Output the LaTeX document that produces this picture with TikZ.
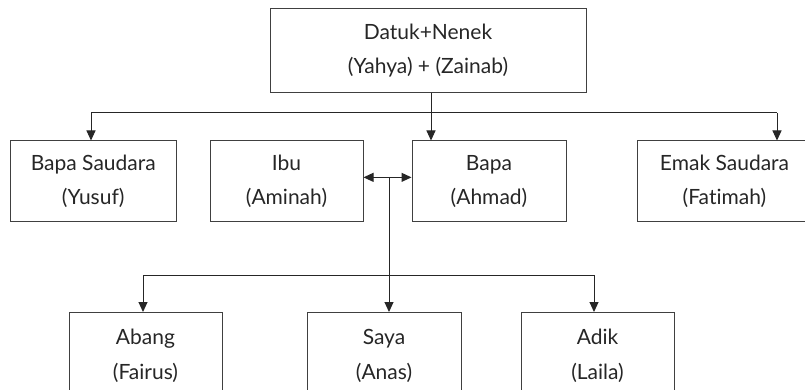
\documentclass[tikz,border=0pt]{standalone}
\usepackage{fontspec}
\setmainfont{Lato}[Ligatures=NoCommon]
\usetikzlibrary{arrows.meta}
\tikzset{
    orang/.style={draw=black!75, line width=1pt, align=center, text=black!85, inner sep=0pt, font=\fontsize{21}{34.5}\selectfont},
    garis/.style={draw=black!85, line width=1pt},
    panah/.style={garis, -{Triangle[length=10pt, width=9pt]}},
    panahdua/.style={garis, {Triangle[length=10pt, width=9pt]}-{Triangle[length=10pt, width=9pt]}}
}

\begin{document}
\begin{tikzpicture}[x=1pt, y=-1pt]
    \useasboundingbox (0,0) rectangle (805,390);
    % generasi atas
    \node[orang, minimum width=316pt, minimum height=83.5pt] (datuk) at (428,50.75) {Datuk+Nenek\\(Yahya) + (Zainab)};
    % generasi tengah
    \node[orang, minimum width=165.5pt, minimum height=80.7pt] (pakcik) at (93.25,181.35) {Bapa Saudara\\(Yusuf)};
    \node[orang, minimum width=153pt, minimum height=80.7pt] (ibu) at (286.5,181.35) {Ibu\\(Aminah)};
    \node[orang, minimum width=154pt, minimum height=80.7pt] (bapa) at (489,181.35) {Bapa\\(Ahmad)};
    \node[orang, minimum width=175pt, minimum height=80.7pt] (makcik) at (724.5,181.35) {Emak Saudara\\(Fatimah)};
    % generasi bawah
    \node[orang, minimum width=153pt, minimum height=87pt] (abang) at (145.5,356) {Abang\\(Fairus)};
    \node[orang, minimum width=154pt, minimum height=87pt] (saya) at (384,356) {Saya\\(Anas)};
    \node[orang, minimum width=153pt, minimum height=87pt] (adik) at (597.5,356) {Adik\\(Laila)};

    \coordinate (kiri) at (91,113);
    \coordinate (kanan) at (777,113);
    \draw[garis] (kiri) -- (kanan);
    \draw[panah] (kiri) -- (kiri |- pakcik.north);
    \draw[panah] (kanan) -- (kanan |- makcik.north);
    \draw[panah] ([xshift=3pt]datuk.south) -- ([xshift=3pt]datuk.south |- bapa.north);

    \draw[panahdua] ([yshift=4pt]ibu.east) -- ([yshift=4pt]bapa.west);
    \coordinate (nikah) at (389,177);
    \draw[panah] (nikah) -- (nikah |- saya.north);

    \coordinate (kiri2) at (143,275);
    \coordinate (kanan2) at (594,275);
    \draw[garis] (kiri2) -- (kanan2);
    \draw[panah] (kiri2) -- (kiri2 |- abang.north);
    \draw[panah] (kanan2) -- (kanan2 |- adik.north);
\end{tikzpicture}
\end{document}
